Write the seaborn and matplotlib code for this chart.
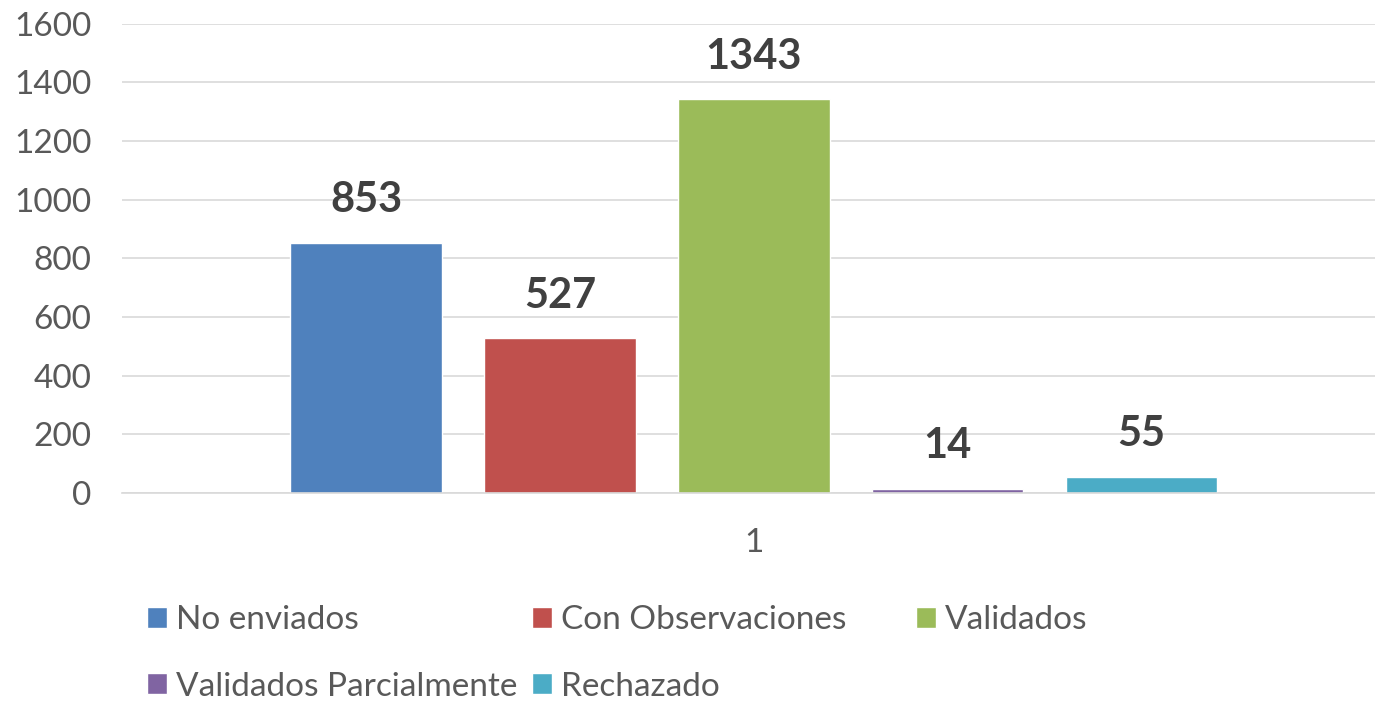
import pandas as pd
import matplotlib.pyplot as plt
import seaborn as sns

# Data
categoria = ['1']
series = ['No enviados', 'Con Observaciones', 'Validados',
          'Validados Parcialmente', 'Rechazado']
valores = [853, 527, 1343, 14, 55]
colores = ['#4F81BD', '#C0504D', '#9BBB59', '#8064A2', '#4BACC6']

df = pd.DataFrame({'cat': categoria * len(series), 'serie': series, 'valor': valores})

sns.set_theme(style="white")
plt.rcParams['font.family'] = ['Lato', 'DejaVu Sans']

fig = plt.figure(figsize=(13.75, 7.02), dpi=100)
ax = fig.add_axes([0.0887, 0.298, 0.919, 0.668])

sns.barplot(data=df, x='cat', y='valor', hue='serie', palette=colores,
            width=0.767, gap=0.218, ax=ax, legend=True, saturation=1)

ax.set_ylim(0, 1600)
ax.set_xlim(-0.5, 0.5)
ax.set_yticks(range(0, 1601, 200))
ax.yaxis.grid(True, color='#D9D9D9', linewidth=1.2)
ax.set_axisbelow(True)
for s in ['top', 'right', 'left']:
    ax.spines[s].set_visible(False)
ax.spines['bottom'].set_color('#D9D9D9')
ax.spines['bottom'].set_linewidth(1.2)
ax.tick_params(axis='y', labelsize=24, colors='#595959', length=0, pad=22)
ax.tick_params(axis='x', labelsize=24, colors='#595959', length=0, pad=25)
ax.set_xlabel('')
ax.set_ylabel('')

for cont in ax.containers:
    ax.bar_label(cont, fontsize=30, fontweight='bold', color='#404040', padding=17)

handles, labels = ax.get_legend_handles_labels()
ax.get_legend().remove()

# legend laid out like the original (flow layout)
pos = [(0.107, 0.117), (0.387, 0.117), (0.666, 0.117),
       (0.107, 0.022), (0.387, 0.022)]
for h, l, (x, y) in zip(handles, labels, pos):
    fig.legend([h], [l], loc='center left', bbox_to_anchor=(x, y), frameon=False,
               fontsize=24, handlelength=0.6, handleheight=0.6, handletextpad=0.27,
               borderpad=0, borderaxespad=0, labelcolor='#595959')

plt.savefig('out.png', dpi=100)
